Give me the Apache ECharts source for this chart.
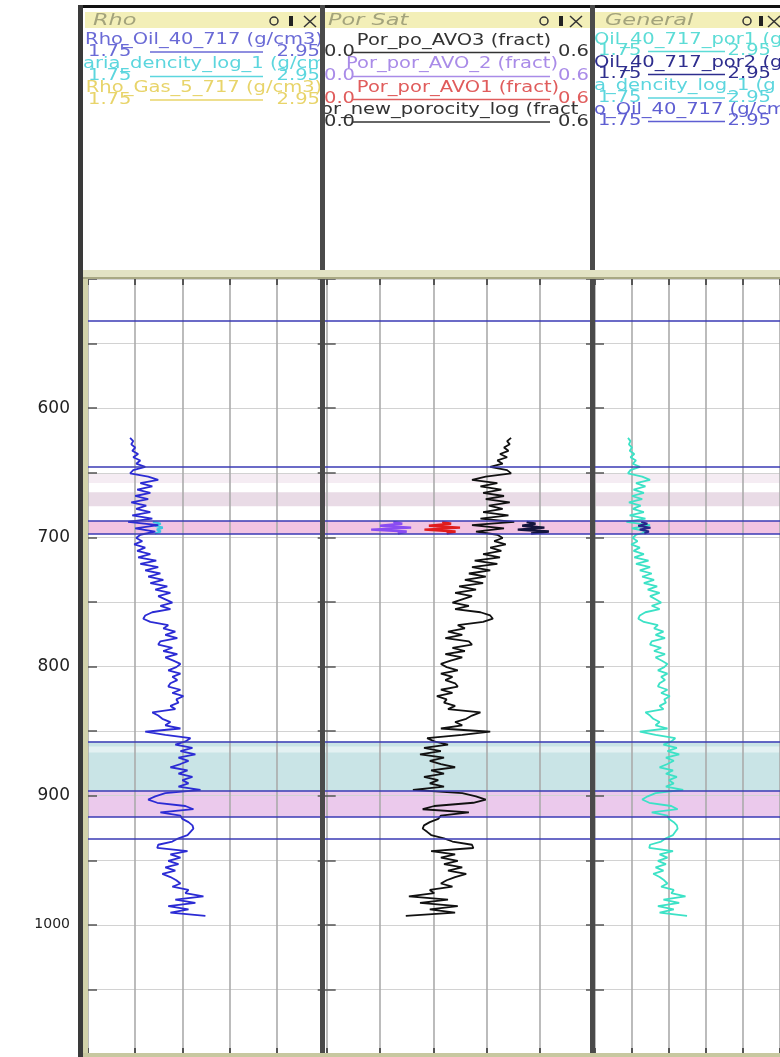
<!DOCTYPE html>
<html><head><meta charset="utf-8">
<script src="https://cdn.jsdelivr.net/npm/echarts@6/dist/echarts.min.js"></script>
<style>html,body{margin:0;padding:0;background:#fff}#c{width:780px;height:1057px}</style>
</head><body><div id="c"></div>
<script>
// ---- data ----
const depthStart = 623, depthStep = 2.5;   // log sampling
const rhoLog = [
 1.964,1.980,1.970,1.990,1.975,2.005,1.980,2.016,1.995,2.041,
 1.980,1.964,2.056,2.107,2.016,2.077,2.000,2.067,1.990,2.056,
 1.970,2.046,1.995,2.067,1.975,2.077,1.954,2.107,1.990,2.092,
 2.016,1.995,2.026,1.985,2.041,2.000,2.067,2.005,2.097,2.016,
 2.107,2.041,2.118,2.056,2.133,2.067,2.153,2.092,2.169,2.107,
 2.143,2.179,2.118,2.169,2.077,2.041,2.031,2.067,2.158,2.133,
 2.194,2.143,2.204,2.118,2.107,2.179,2.133,2.204,2.143,2.184,
 2.220,2.199,2.158,2.220,2.179,2.204,2.169,2.158,2.220,2.179,
 2.235,2.199,2.210,2.169,2.194,2.077,2.107,2.128,2.169,2.143,
 2.220,2.041,2.143,2.271,2.245,2.194,2.281,2.220,2.296,2.210,
 2.261,2.220,2.169,2.256,2.210,2.281,2.230,2.261,2.210,2.322,
 2.143,2.092,2.056,2.102,2.245,2.286,2.118,2.220,2.230,2.261,
 2.281,2.286,2.271,2.256,2.210,2.179,2.107,2.102,2.256,2.169,
 2.220,2.158,2.210,2.143,2.194,2.128,2.169,2.199,2.220,2.179,
 2.261,2.245,2.337,2.194,2.296,2.158,2.261,2.169,2.347];
const porosityLog = [
 .415,.406,.412,.399,.409,.390,.406,.384,.396,.368,
 .406,.415,.358,.327,.384,.346,.393,.352,.399,.358,
 .412,.365,.396,.352,.409,.346,.422,.327,.399,.336,
 .384,.396,.377,.403,.368,.393,.352,.390,.333,.384,
 .327,.368,.320,.358,.311,.352,.298,.336,.289,.327,
 .305,.283,.320,.289,.346,.368,.374,.352,.295,.311,
 .273,.305,.267,.320,.327,.283,.311,.267,.305,.279,
 .257,.270,.295,.257,.283,.267,.289,.295,.257,.283,
 .248,.270,.264,.289,.273,.346,.327,.314,.289,.305,
 .257,.368,.305,.226,.242,.273,.219,.257,.210,.264,
 .232,.257,.289,.235,.264,.219,.251,.232,.264,.194,
 .305,.336,.358,.330,.242,.216,.320,.257,.251,.232,
 .219,.216,.226,.235,.264,.283,.327,.330,.235,.289,
 .257,.295,.264,.305,.273,.314,.289,.270,.257,.283,
 .232,.242,.185,.273,.210,.295,.232,.289,.178];
const zoneDepths = [688, 689.5, 691, 692.5, 694, 695.5, 697];
const porAvo2 = [0.15, 0.17, 0.12, 0.19, 0.10, 0.18, 0.16];
const porAvo1 = [0.26, 0.28, 0.23, 0.30, 0.22, 0.29, 0.27];
const porAvo3 = [0.45, 0.47, 0.44, 0.49, 0.43, 0.50, 0.46];
const densityZone = [2.08, 2.12, 2.09, 2.13, 2.10, 2.12, 2.09];
const rhoOilZone = [2.05, 2.09, 2.03, 2.11, 2.04, 2.10, 2.07];
const zoneLines = [532, 645, 687.4, 697.5, 858, 896.4, 916.5, 933.5];
const bandTops = [650.3, 665, 687.4, 858, 862, 896.4];
const bandBottoms = [658, 676, 697.5, 896.4, 866.5, 916.5];
const depthLabels = [600, 700, 800, 900, 1000];
const trackTitles = ['Rho', 'Por Sat', 'General'];
const rhoNames = ['Rho_Oil_40_717 (g/cm3)', 'aria_dencity_log_1 (g/cm', 'Rho_Gas_5_717 (g/cm3)'];
const rhoScale = ['1.75', '2.95'];
const porNames = ['Por_po_AVO3 (fract)', 'Por_por_AVO_2 (fract)', 'Por_por_AVO1 (fract)', 'or_new_porocity_log (fract'];
const porScale = ['0.0', '0.6'];
const genNames = ['Oil_40_717_por1 (g', 'Oil_40_717_por2 (g', 'a_dencity_log_1 (g', 'o_Oil_40_717 (g/cm'];
const genScale = ['1.75', '2.95'];
const trackRanges = [[1.75, 2.95], [0, 0.6], [1.75, 2.95]];
const depthRange = [500, 1100];

// ---- build ----
const TOP = 279, H = 775;
const logPairs = arr => arr.map((v, i) => [v, depthStart + i * depthStep]);
const zonePairs = arr => arr.map((v, i) => [v, zoneDepths[i]]);
const bandColors = ['#f5ecf3', '#e9dbe6', '#f2c4e2', '#c9e4e6', '#e3f1f2', '#ebc9ec'];

const grids = [
  {left: 88, top: TOP, width: 236, height: H},
  {left: 326.7, top: TOP, width: 266.6, height: H},
  {left: 595, top: TOP, width: 194, height: H},
  {left: 88, top: TOP, width: 692, height: H}
];
const xAxes = [], yAxes = [];
for (let k = 0; k < 3; k++) {
  const tick = {show: true, inside: true, length: 6, lineStyle: {color: '#555', width: 2}};
  xAxes.push({gridIndex: k, type: 'value', min: 0, max: 5, interval: 1, position: 'bottom', z: 2,
    axisLine: {show: false}, axisLabel: {show: false}, axisTick: tick,
    splitLine: {show: true, lineStyle: {color: '#ababab', width: 1.6}}});
  xAxes.push({gridIndex: k, type: 'value', min: 0, max: 5, interval: 1, position: 'top', z: 2,
    axisLine: {show: false}, axisLabel: {show: false}, axisTick: tick, splitLine: {show: false}});
  xAxes.push({gridIndex: k, type: 'value', min: trackRanges[k][0], max: trackRanges[k][1], show: false});
  const yt = {show: true, inside: true, length: 9, lineStyle: {color: '#555', width: 1.5}};
  yAxes.push({gridIndex: k, type: 'value', inverse: true, min: depthRange[0], max: depthRange[1], interval: 50, z: 2,
    axisLine: {show: false}, axisTick: yt,
    splitLine: {show: true, lineStyle: {color: '#d2d2d2', width: 1}},
    axisLabel: k === 0 ? {show: true, margin: 18, color: '#222', fontSize: 17, fontFamily: 'DejaVu Sans',
      formatter: v => depthLabels.indexOf(v) >= 0 ? (v === 1000 ? '{s|' + v + '}' : String(v)) : '',
      rich: {s: {fontSize: 14, fontFamily: 'DejaVu Sans', color: '#222'}}} : {show: false}});
  yAxes.push({gridIndex: k, type: 'value', inverse: true, min: depthRange[0], max: depthRange[1], interval: 50, position: 'right', z: 2,
    axisLine: {show: false}, axisTick: yt, splitLine: {show: false}, axisLabel: {show: false}});
}
xAxes.push({gridIndex: 3, type: 'value', min: 0, max: 1, show: false});
yAxes.push({gridIndex: 3, type: 'value', inverse: true, min: depthRange[0], max: depthRange[1], show: false});

const curve = (data, xi, yi, color, w, z) => ({type: 'line', data, xAxisIndex: xi, yAxisIndex: yi,
  showSymbol: false, symbol: 'none', silent: true, z: z || 3,
  lineStyle: {color, width: w || 1.8}});

const series = [
  {type: 'line', xAxisIndex: 9, yAxisIndex: 6, data: [[0.5, 500]], symbol: 'none', silent: true, z: 1,
    lineStyle: {opacity: 0},
    markArea: {silent: true, data: bandTops.map((t, i) => [{yAxis: t, itemStyle: {color: bandColors[i]}}, {yAxis: bandBottoms[i]}])},
    markLine: {silent: true, symbol: 'none', label: {show: false},
      lineStyle: {color: '#3a3ab4', width: 1.5, type: 'solid'},
      data: zoneLines.map(d => ({yAxis: d}))}},
  curve(zonePairs(densityZone), 2, 0, '#3cc8e0', 2.2),
  curve(logPairs(rhoLog), 2, 0, '#2b2bd4', 1.8, 4),
  curve(logPairs(porosityLog), 5, 2, '#111', 1.8),
  curve(zonePairs(porAvo2), 5, 2, '#8a4cf2', 2.4, 4),
  curve(zonePairs(porAvo1), 5, 2, '#e01c1c', 2.4, 4),
  curve(zonePairs(porAvo3), 5, 2, '#14143c', 2.4, 4),
  curve(logPairs(rhoLog), 8, 4, '#3ce2c6', 1.8),
  curve(zonePairs(rhoOilZone), 8, 4, '#26268a', 2, 4)
];

// ---- header / frame graphics ----
const SX = 1.3;
const g = [];
const txt = (text, x, y, color, align, font, sx) => g.push({type: 'text', x, y, scaleX: sx || SX, z: 20, silent: true,
  style: {text, fill: color, font: font || '15px "DejaVu Sans"', align: align || 'left', textAlign: align || 'left',
    verticalAlign: 'middle', textVerticalAlign: 'middle'}});
const rect = (x, y, w, h, fill, z) => g.push({type: 'rect', z: z || 10, silent: true, shape: {x, y, width: w, height: h}, style: {fill}});
const line = (x1, y1, x2, y2, stroke, lw, z) => g.push({type: 'line', z: z || 20, silent: true, shape: {x1, y1, x2, y2}, style: {stroke, lineWidth: lw}});

// title bars
const bars = [[85, 235], [325, 265], [595, 185]];
bars.forEach(b => rect(b[0], 12, b[1], 16, '#f3efb8'));
txt(trackTitles[0], 93, 21, '#a3a37c', 'left', 'italic 16px "DejaVu Sans"', 1.4);
txt(trackTitles[1], 328, 21, '#a3a37c', 'left', 'italic 16px "DejaVu Sans"', 1.4);
txt(trackTitles[2], 605, 21, '#a3a37c', 'left', 'italic 16px "DejaVu Sans"', 1.4);
[[274, 289, 304], [544, 559, 570], [747, 759, 768]].forEach(p => {
  g.push({type: 'circle', z: 20, silent: true, shape: {cx: p[0], cy: 21, r: 4}, style: {fill: 'none', stroke: '#333', lineWidth: 1.5}});
  rect(p[1], 16, 4, 10, '#222', 20);
  line(p[2], 16, p[2] + 12, 27, '#333', 1.5);
  line(p[2] + 12, 16, p[2], 27, '#333', 1.5);
});
// legends
const scaleRow = (y, color, sc, lx, l1, l2, rx) => {
  txt(sc[0], lx, y, color, 'left');
  line(l1, y, l2, y, color, 1.5);
  txt(sc[1], rx, y, color, 'right');
};
const c1 = ['#6a6ad6', '#5cd6de', '#e8d46a'];
txt(rhoNames[0], 204, 40, c1[0], 'center');
scaleRow(52, c1[0], rhoScale, 88, 150, 263, 320);
txt(rhoNames[1], 83, 64.5, c1[1], 'left');
scaleRow(76.5, c1[1], rhoScale, 88, 150, 263, 320);
txt(rhoNames[2], 204, 88.5, c1[2], 'center');
scaleRow(100, c1[2], rhoScale, 88, 150, 263, 320);

const c2 = ['#333333', '#a98be8', '#e05c5c', '#333333'];
txt(porNames[0], 454, 41, c2[0], 'center');
scaleRow(52.5, c2[0], porScale, 324, 353, 550, 589);
txt(porNames[1], 452, 64.5, c2[1], 'center');
scaleRow(76.5, c2[1], porScale, 324, 353, 550, 589);
txt(porNames[2], 458, 88, c2[2], 'center');
scaleRow(99.5, c2[2], porScale, 324, 353, 550, 589);
txt(porNames[3], 321, 110.5, c2[3], 'left');
scaleRow(122, c2[3], porScale, 324, 353, 550, 589);

const c3 = ['#5cdcd6', '#2e2e8e', '#5cd6de', '#5e5ed2'];
const gy = [40, 63, 86.5, 110];
genNames.forEach((n, i) => {
  txt(n, 594, gy[i], c3[i], 'left');
  scaleRow(gy[i] + 11.5, c3[i], genScale, 598, 648, 725, 771);
});

// frame
rect(78, 5, 702, 3, '#111', 30);
rect(78, 5, 5, 1052, '#3a3a3a', 30);
rect(83, TOP, 5, H, '#d2d2aa', 30);
rect(320, 5, 5, 1052, '#4a4a4a', 30);
rect(590, 5, 5, 1052, '#4a4a4a', 30);
rect(83, 270, 697, 9, '#e2e2c4', 30);
rect(83, 277, 697, 2, '#a8a884', 31);
rect(83, 1053, 697, 4, '#c8c8a0', 30);

const chart = echarts.init(document.getElementById('c'), null, {renderer: 'canvas'});
chart.setOption({
  animation: false,
  backgroundColor: '#fff',
  grid: grids,
  xAxis: xAxes,
  yAxis: yAxes,
  series,
  graphic: {elements: g}
});
</script></body></html>
